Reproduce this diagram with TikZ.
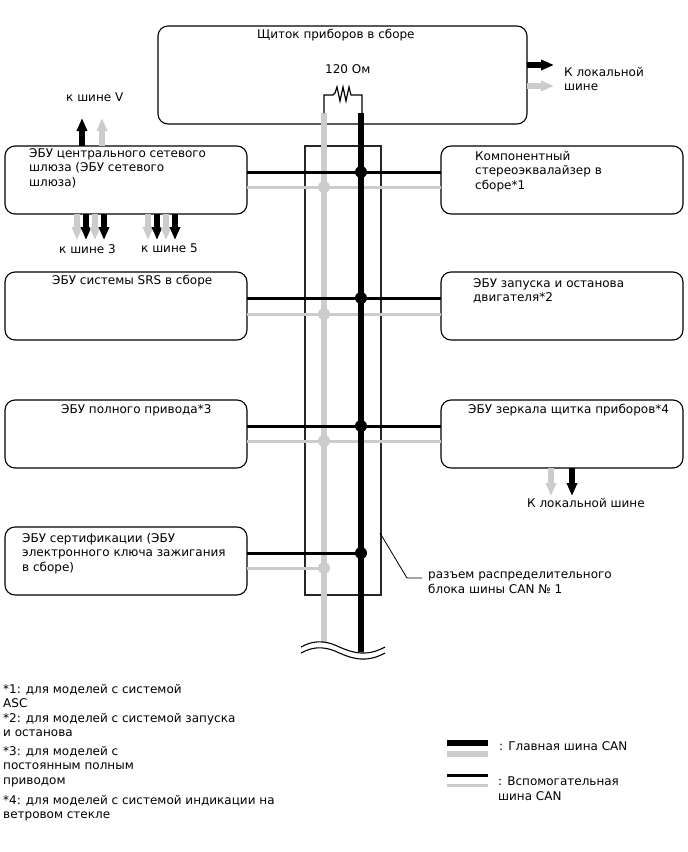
\documentclass[tikz,border=0pt]{standalone}
\usepackage{fontspec}
\setmainfont{DejaVu Sans}
\usetikzlibrary{arrows.meta,positioning}
\definecolor{subgrey}{RGB}{204,204,204}
\tikzset{
  block/.style={
    draw=black,
    rounded corners=10pt,
    line width=1.1pt,
    outer sep=0pt,
    minimum width=242pt,
    minimum height=68pt
  },
  txt/.style={
    anchor=north west,
    align=left,
    inner sep=0pt,
    font=\fontsize{12}{14.5}\selectfont
  },
  joint/.style={circle, fill=#1, inner sep=0pt, minimum size=12pt},
  mainbk/.style={line width=6pt, black},
  maingr/.style={line width=5.5pt, subgrey},
  subbk/.style={line width=3pt, black},
  subgr/.style={line width=3pt, subgrey},
  tobus/.style={line width=5.5pt, #1, -{Triangle[width=10pt,length=13pt]}}
}
\begin{document}
\begin{tikzpicture}[x=1pt,y=-1pt]
  \useasboundingbox (0,0) rectangle (688,852);
  % blocks
  \node[block, anchor=north west, minimum width=369pt, minimum height=98pt] (panel) at (158,26) {};
  \node[block, anchor=north west] (gw) at (5,146) {};
  \node[block, below=58pt of gw] (srs) {};
  \node[block, below=60pt of srs] (awd) {};
  \node[block, below=59pt of awd] (cert) {};
  \node[block, right=194pt of gw] (eq) {};
  \node[block, right=194pt of srs] (eng) {};
  \node[block, right=194pt of awd] (mirror) {};
  \node[draw=black!85, line width=1.1pt, outer sep=0pt, anchor=north west, minimum width=76pt, minimum height=449pt] (dlc) at (305,146) {};
  % bus ends
  \coordinate (grtop) at (324,113);
  \coordinate (bktop) at (361,113);
  \coordinate (grend) at (324,643);
  \coordinate (bkend) at (361,652);
  % joints
  \coordinate (jb1) at (361,172);
  \coordinate (jg1) at (324,187);
  \coordinate (jb2) at (361,298);
  \coordinate (jg2) at (324,314);
  \coordinate (jb3) at (361,426);
  \coordinate (jg3) at (324,441);
  \coordinate (jb4) at (361,553);
  \coordinate (jg4) at (324,568);
  % buses
  \draw[maingr] (grtop) -- (grend);
  \foreach \j/\a/\b in {jg1/gw/eq, jg2/srs/eng, jg3/awd/mirror}
    \draw[subgr] (\j -| \a.east) -- (\j -| \b.west);
  \draw[subgr] (jg4 -| cert.east) -- (jg4);
  \foreach \j/\a/\b in {jb1/gw/eq, jb2/srs/eng, jb3/awd/mirror}
    \draw[subbk] (\j -| \a.east) -- (\j -| \b.west);
  \draw[subbk] (jb4 -| cert.east) -- (jb4);
  \draw[mainbk] (bktop) -- (bkend);
  \foreach \j in {jg1,jg2,jg3,jg4}
    \node[joint=subgrey] at (\j) {};
  \foreach \j in {jb1,jb2,jb3,jb4}
    \node[joint=black] at (\j) {};
  % resistor
  \draw[line width=1.2pt, line join=miter] (grtop) -- (324,95) -- (333,95) -- (335,93) -- (337,87) -- (340,101) -- (343,87) -- (346,101) -- (349,87) -- (351,95) -- (362,95) -- (362,113);
  % cut
  \draw[line width=1.1pt] (301,647) .. controls (312,641) and (322,640) .. (335,645) .. controls (350,652) and (365,658) .. (385,647);
  \draw[line width=1.1pt] (301,653) .. controls (312,647) and (322,646) .. (335,651) .. controls (350,658) and (365,664) .. (385,653);
  % leader
  \coordinate (ldr) at (380,533);
  \draw[line width=0.8pt] (ldr) -- (407,578) -- (422,578);
  % arrows
  \draw[tobus=black] (panel.east |- 0,65) -- (554,65);
  \draw[tobus=subgrey] (panel.east |- 0,86) -- (554,86);
  \foreach \x/\c in {82/black,102/subgrey}
    \draw[tobus=\c] (gw.north -| \x,0) -- (\x,118);
  \foreach \x/\c in {77/subgrey,86/black,95/subgrey,104/black,148/subgrey,157/black,166/subgrey,175/black}
    \draw[tobus=\c] (gw.south -| \x,0) -- (\x,240);
  \foreach \x/\c in {551/subgrey,572/black}
    \draw[tobus=\c] (mirror.south -| \x,0) -- (\x,496);
  % labels
  \node[txt] (tpanel) at (257,29) {Щиток приборов в сборе};
  \node[txt] (tres) at (325,64) {120 Ом};
  \node[txt] (tloc) at (564,67) {К локальной\\шине};
  \node[txt] (tv) at (66,93) {к шине V};
  \node[txt] (tgw) at (29,148) {ЭБУ центрального сетевого\\шлюза (ЭБУ сетевого\\шлюза)};
  \node[txt] (tb3) at (59,244) {к шине 3};
  \node[txt] (tb5) at (141,244) {к шине 5};
  \node[txt] (tsrs) at (52,275) {ЭБУ системы SRS в сборе};
  \node[txt] (tawd) at (61,404) {ЭБУ полного привода*3};
  \node[txt] (tcert) at (22,533) {ЭБУ сертификации (ЭБУ\\электронного ключа зажигания\\в сборе)};
  \node[txt] (teq) at (475,151) {Компонентный\\стереоэквалайзер в\\сборе*1};
  \node[txt] (teng) at (473,278) {ЭБУ запуска и останова\\двигателя*2};
  \node[txt] (tmir) at (468,404) {ЭБУ зеркала щитка приборов*4};
  \node[txt] (tloc2) at (527,498) {К локальной шине};
  \node[txt] (tdlc) at (428,572) {разъем распределительного\\блока шины CAN № 1};
  \node[txt] (tn1) at (3,684) {*1: для моделей с системой\\ASC};
  \node[txt] (tn2) at (3,713) {*2: для моделей с системой запуска\\и останова};
  \node[txt] (tn3) at (3,746) {*3: для моделей с\\постоянным полным\\приводом};
  \node[txt] (tn4) at (3,795) {*4: для моделей с системой индикации на\\ветровом стекле};
  % legend
  \coordinate (lga) at (447,743);
  \coordinate (lgb) at (447,754);
  \coordinate (lgc) at (447,775);
  \coordinate (lgd) at (447,785);
  \draw[mainbk] (lga) -- ++(41,0);
  \draw[maingr] (lgb) -- ++(41,0);
  \draw[subbk] (lgc) -- ++(41,0);
  \draw[subgr] (lgd) -- ++(41,0);
  \node[txt] (tmain) at (499,741) {: Главная шина CAN};
  \node[txt] (tsub) at (498,777) {: Вспомогательная\\шина CAN};
\end{tikzpicture}
\end{document}
